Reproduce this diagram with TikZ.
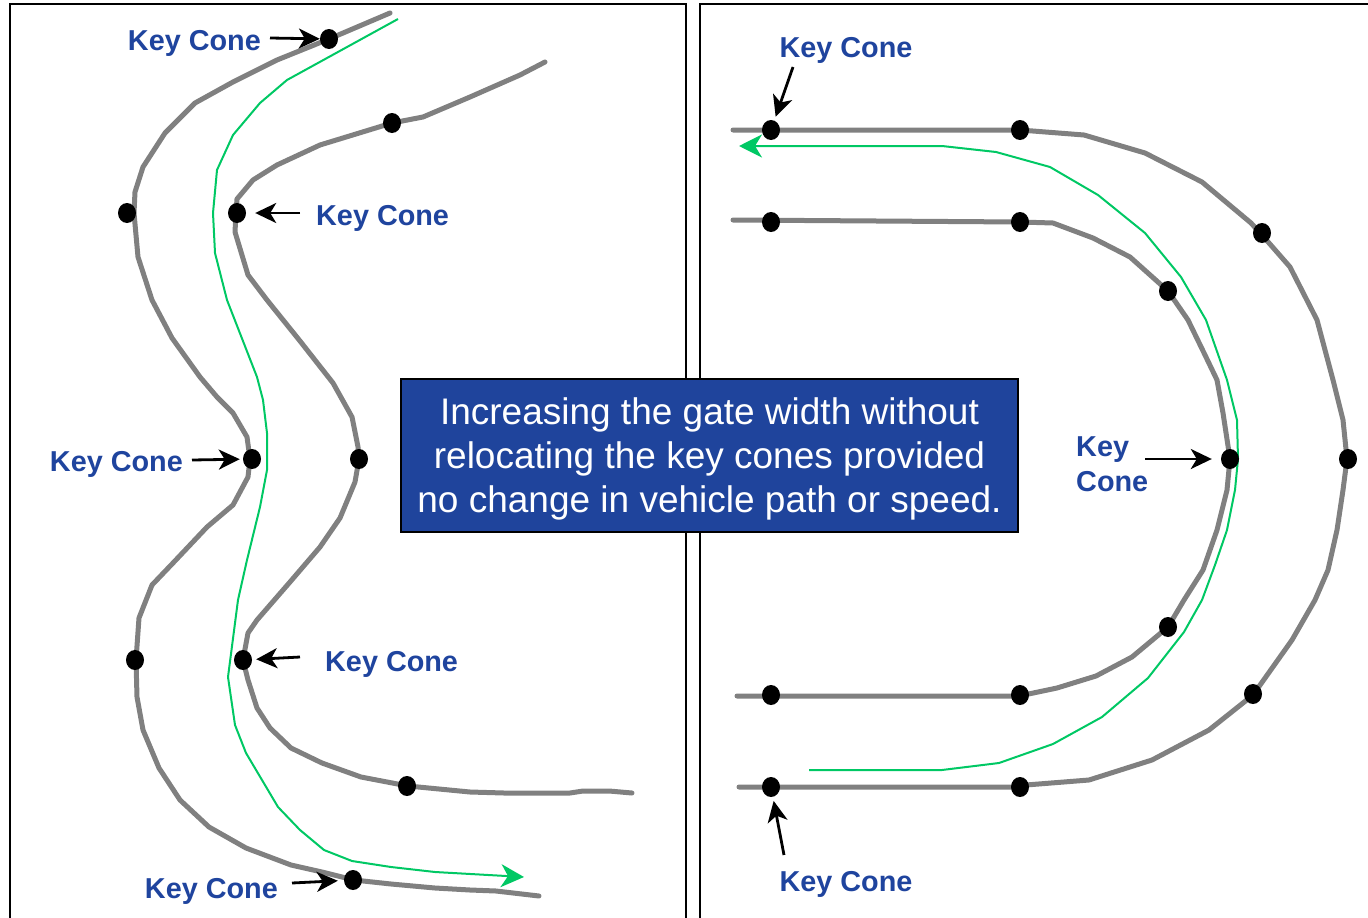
\documentclass[tikz,border=0pt]{standalone}
\usepackage{fontspec}
\setmainfont{Liberation Sans}
\usetikzlibrary{arrows.meta,shapes.geometric}
\definecolor{keyblue}{HTML}{1F449E}
\definecolor{boxblue}{HTML}{1F449C}
\definecolor{pathgreen}{HTML}{00C864}
\definecolor{gatecol}{HTML}{808080}

\begin{document}
\begin{tikzpicture}[x=1pt,y=-1pt,
  gate/.style={draw=gatecol, line width=5pt, line join=round, line cap=round},
  track/.style={draw=pathgreen, line width=2pt, line join=round,
    -{Stealth[length=23pt 0 0,width=23pt 0 0,inset=7pt 0]}},
  cone/.style={ellipse, fill=black, minimum width=18pt, minimum height=20pt, inner sep=0pt},
  keylabel/.style={text=keyblue, font=\bfseries\fontsize{28.8}{35}\selectfont, inner sep=0pt},
  pointer/.style={draw=black, line width=2.8pt, -{Stealth[length=21pt 0 0,width=20pt 0 0,inset=6pt 0]}},
  panel/.style={draw=black, line width=2.5pt}]

\useasboundingbox (0,0) rectangle (1368,918);

% panel frames
\draw[panel] (10,925) -- (10,4) -- (686,4) -- (686,925);
\draw[panel] (700,925) -- (700,4) -- (1375,4);

% ---------- left panel: slalom ----------
\draw[gate] (390,13) -- (329,39) -- (277,60) -- (233,82) -- (195,103) -- (165,133)
  -- (143,167) -- (135,192) -- (134,213) -- (138,257) -- (152,300) -- (172,338)
  -- (200,377) -- (217,397) -- (233,413) -- (247,437) -- (250,459) -- (248,477)
  -- (233,505) -- (207,527) -- (173,563) -- (152,585) -- (139,618) -- (136,660)
  -- (137,697) -- (143,730) -- (159,768) -- (180,800) -- (209,827) -- (246,848)
  -- (291,865) -- (322,872) -- (354,880) -- (391,884) -- (435,888) -- (470,890)
  -- (496,891) -- (539,896);
\draw[gate] (545,62) -- (520,75) -- (470,97) -- (423,117) -- (392,123) -- (320,145)
  -- (277,165) -- (253,180) -- (237,199) -- (236,213) -- (235,232) -- (248,275)
  -- (267,300) -- (300,341) -- (333,383) -- (352,417) -- (358,447) -- (359,459)
  -- (355,482) -- (340,518) -- (320,547) -- (290,582) -- (257,620) -- (248,633)
  -- (243,660) -- (248,680) -- (257,708) -- (270,728) -- (291,748) -- (322,763)
  -- (361,777) -- (408,786) -- (470,792) -- (504,793) -- (570,793) -- (583,791)
  -- (609,791) -- (632,793);
\draw[track] (398,19) -- (287,80) -- (260,103) -- (233,135) -- (217,170) -- (213,213)
  -- (215,253) -- (227,300) -- (257,377) -- (263,400) -- (267,433) -- (267,470)
  -- (260,507) -- (247,560) -- (238,600) -- (228,677) -- (235,725) -- (246,753)
  -- (278,807) -- (300,830) -- (324,850) -- (352,861) -- (391,867) -- (435,872)
  -- (524,877);

\node[cone] (c1) at (329,39) {};
\node[cone] (c2) at (392,123) {};
\node[cone] (c3) at (127,213) {};
\node[cone] (c4) at (237,213) {};
\node[cone] (c5) at (252,459) {};
\node[cone] (c6) at (359,459) {};
\node[cone] (c7) at (135,660) {};
\node[cone] (c8) at (243,660) {};
\node[cone] (c9) at (407,786) {};
\node[cone] (c10) at (353,880) {};

\node[keylabel, anchor=base east] (l1) at (261,50) {Key Cone};
\node[keylabel, anchor=base west] (l2) at (316,225) {Key Cone};
\node[keylabel, anchor=base east] (l3) at (183,471) {Key Cone};
\node[keylabel, anchor=base west] (l4) at (325,671) {Key Cone};
\node[keylabel, anchor=base east] (l5) at (278,898) {Key Cone};

\coordinate (s1) at (270,38);
\coordinate (s2) at (300,213);
\coordinate (s3) at (192,460);
\coordinate (s4) at (300,657);
\coordinate (s5) at (292,883);
\draw[pointer] (s1) -- (c1);
\draw[pointer, shorten >=9pt] (s2) -- (c4);
\draw[pointer, shorten >=3pt] (s3) -- (c5);
\draw[pointer, shorten >=4pt] (s4) -- (c8);
\draw[pointer, shorten >=6pt] (s5) -- (c10);

% ---------- right panel: U-turn ----------
\draw[gate] (733,130) -- (1020,130) -- (1084,135) -- (1145,153) -- (1202,182)
  -- (1251,223) -- (1262,235) -- (1290,267) -- (1317,320) -- (1333,380)
  -- (1343,420) -- (1347,459) -- (1343,490) -- (1337,530) -- (1328,570)
  -- (1315,600) -- (1292,640) -- (1253,695) -- (1209,730) -- (1152,760)
  -- (1089,780) -- (1026,785) -- (1019,787) -- (739,787);
\draw[gate] (733,220) -- (1020,222) -- (1053,223) -- (1093,238) -- (1130,257)
  -- (1168,291) -- (1188,320) -- (1205,355) -- (1217,380) -- (1223,413)
  -- (1230,459) -- (1227,490) -- (1217,530) -- (1203,570) -- (1184,600)
  -- (1168,627) -- (1132,657) -- (1096,676) -- (1057,688) -- (1019,696)
  -- (737,696);
\draw[track] (809,770) -- (942,770) -- (999,763) -- (1053,744) -- (1102,717)
  -- (1148,678) -- (1184,632) -- (1202,600) -- (1215,565) -- (1227,530)
  -- (1235,490) -- (1238,459) -- (1237,420) -- (1227,380) -- (1206,320)
  -- (1181,277) -- (1145,233) -- (1098,195) -- (1050,167) -- (996,152)
  -- (942,146) -- (739,146);

\node[cone] (r1) at (771,130) {};
\node[cone] (r2) at (1020,130) {};
\node[cone] (r3) at (771,222) {};
\node[cone] (r4) at (1020,222) {};
\node[cone] (r5) at (1262,233) {};
\node[cone] (r6) at (1168,291) {};
\node[cone] (r7) at (1230,459) {};
\node[cone] (r8) at (1348,459) {};
\node[cone] (r9) at (1168,627) {};
\node[cone] (r10) at (1253,694) {};
\node[cone] (r11) at (771,695) {};
\node[cone] (r12) at (1020,695) {};
\node[cone] (r13) at (771,787) {};
\node[cone] (r14) at (1020,787) {};

\node[keylabel, anchor=base] (l6) at (846,57) {Key Cone};
\node[keylabel, anchor=base] (l7) at (846,891) {Key Cone};
\node[keylabel, anchor=base west] (l8) at (1076,456) {Key};
\node[keylabel, anchor=base west] (l9) at (1076,491) {Cone};

\coordinate (s6) at (793,67);
\coordinate (s7) at (784,855);
\coordinate (s8) at (1145,459);
\draw[pointer, shorten >=4pt] (s6) -- (r1);
\draw[pointer, shorten >=4pt] (s7) -- (r13);
\draw[pointer, shorten >=9pt] (s8) -- (r7);

% ---------- caption box ----------
\node[draw=black, line width=2pt, fill=boxblue,
  minimum width=617pt, minimum height=153pt] (note) at (709.5,455.5) {};
\node[text=white, align=center, inner sep=0pt,
  font=\fontsize{37}{44}\selectfont] (notetext) at (709.5,459)
  {Increasing the gate width without\\relocating the key cones provided\\no change in vehicle path or speed.};
\end{tikzpicture}
\end{document}
